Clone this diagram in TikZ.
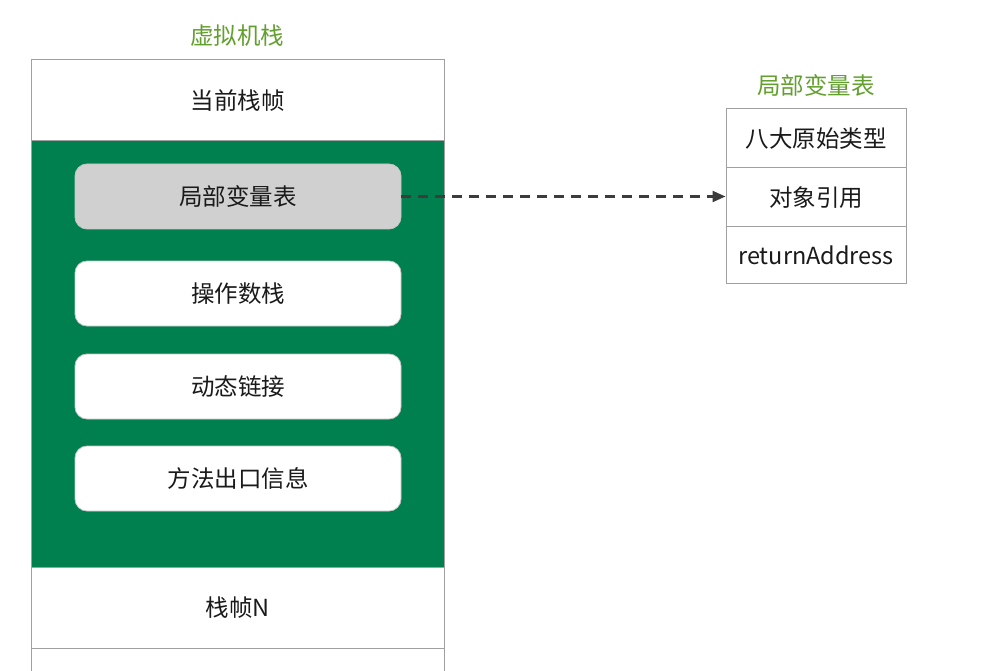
\documentclass[tikz,border=0pt]{standalone}
\usepackage{fontspec}
\setmainfont{Noto Sans CJK SC}
\usetikzlibrary{arrows.meta}
\definecolor{titlegreen}{HTML}{62A02E}
\definecolor{fillgreen}{HTML}{00804F}
\definecolor{boxgray}{HTML}{D0D0D0}
\definecolor{txt}{HTML}{1A1A1A}
\definecolor{edge}{HTML}{A0A0A0}
\tikzset{
  lbl/.style={font=\fontsize{23.5}{28}\selectfont},
  frame/.style={draw=edge, line width=1pt, fill=white, minimum width=413pt, minimum height=81pt, inner sep=0pt, lbl, text=txt},
  inner/.style={draw=edge!60, line width=0.8pt, fill=white, rounded corners=12pt, minimum width=326pt, minimum height=65pt, inner sep=0pt, lbl, text=txt},
  cell/.style={draw=edge, line width=1pt, fill=white, minimum width=180pt, inner sep=0pt, lbl, text=txt},
  ttl/.style={lbl, text=titlegreen, inner sep=0pt},
  conn/.style={draw=txt!85, line width=2.3pt, dash pattern=on 10pt off 7pt, -{Triangle[length=13pt,width=11pt]}}
}
\begin{document}
\begin{tikzpicture}[x=1pt,y=-1pt]
\useasboundingbox (0,0) rectangle (988,671);
\clip (0,0) rectangle (988,671);
\node[ttl] (t1) at (237,36) {虚拟机栈};
\node[frame] (cur) at (237.5,100.5) {当前栈帧};
\node[frame, fill=fillgreen, minimum height=426pt] (grn) at (237.5,354) {};
\node[frame] (fn) at (237.5,607.5) {栈帧N};
\node[frame] (nx) at (237.5,688.5) {};
\node[inner, fill=boxgray] (b1) at (238,196.5) {局部变量表};
\node[inner] (b2) at (238,293.5) {操作数栈};
\node[inner] (b3) at (238,386.5) {动态链接};
\node[inner] (b4) at (238,478.5) {方法出口信息};
\node[ttl] (t2) at (816,85) {局部变量表};
\node[cell, minimum height=59pt] (r1) at (816,138.5) {八大原始类型};
\node[cell, minimum height=59pt] (r2) at (816,197.5) {对象引用};
\node[cell, minimum height=56pt] (r3) at (816,255) {returnAddress};
\draw[conn] (b1.east) -- (b1.east -| r2.west);
\end{tikzpicture}
\end{document}
